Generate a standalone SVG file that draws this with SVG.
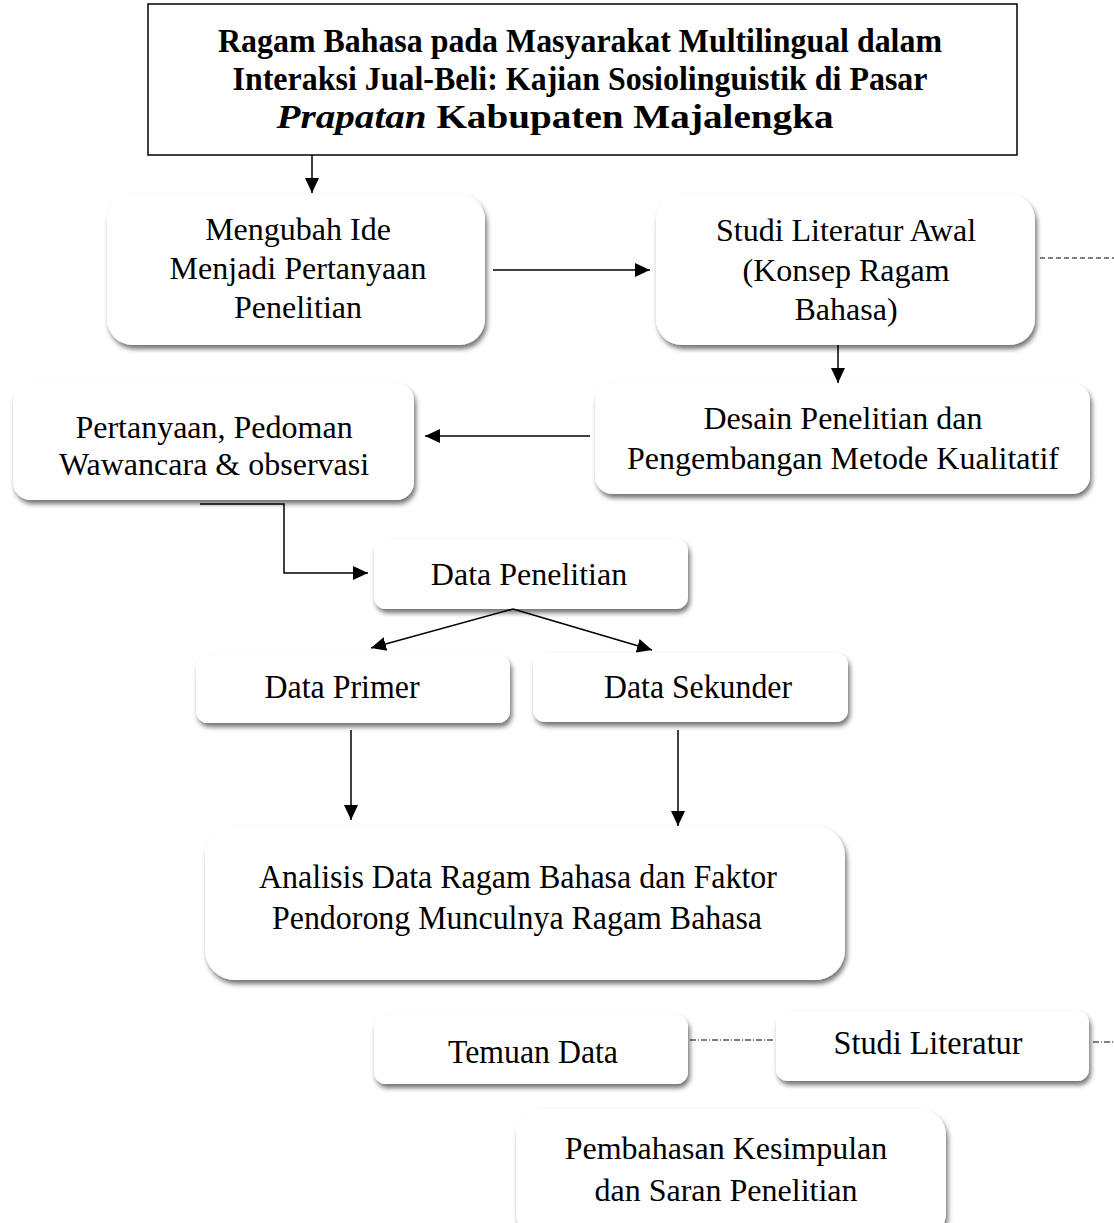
<svg xmlns="http://www.w3.org/2000/svg" width="1114" height="1223" viewBox="0 0 1114 1223">
<defs>
<marker id="ah" markerUnits="userSpaceOnUse" markerWidth="16" markerHeight="16" refX="15" refY="8" orient="auto">
<path d="M0,1 L15,8 L0,15 Z" fill="#000"/>
</marker>
<filter id="sh" x="-10%" y="-10%" width="125%" height="135%">
<feDropShadow dx="2" dy="4" stdDeviation="2.5" flood-color="#000" flood-opacity="0.55"/>
</filter>
</defs>
<style>
.box{fill:#fff;filter:url(#sh)}
.t{font-family:"Liberation Serif","Times New Roman",serif;font-size:32px;fill:#000;text-anchor:middle}
.n{font-size:34px}
.tt{font-family:"Liberation Serif","Times New Roman",serif;font-size:34px;font-weight:bold;fill:#000;text-anchor:middle}
.c{stroke:#000;stroke-width:1.5;fill:none}
.d{stroke:#000;stroke-width:1;fill:none;stroke-dasharray:5 3}
.dd{stroke:#000;stroke-width:1;fill:none;stroke-dasharray:6 2 1 2}
</style>
<rect width="1114" height="1223" fill="#fff"/>
<g id="title">
<rect x="148" y="4" width="869" height="151" fill="#fff" stroke="#000" stroke-width="1.5"/>
<text class="tt" x="580" y="52" textLength="724" lengthAdjust="spacingAndGlyphs">Ragam Bahasa pada Masyarakat Multilingual dalam</text>
<text class="tt" x="580" y="90" textLength="695" lengthAdjust="spacingAndGlyphs">Interaksi Jual-Beli: Kajian Sosiolinguistik di Pasar</text>
<text class="tt" x="555" y="128" textLength="557" lengthAdjust="spacingAndGlyphs"><tspan font-style="italic">Prapatan</tspan> Kabupaten Majalengka</text>
</g>
<g id="n-mengubah">
<rect class="box" x="107" y="194" width="378" height="151" rx="26"/>
<text class="t" x="298" y="240">Mengubah Ide</text>
<text class="t" x="298" y="279">Menjadi Pertanyaan</text>
<text class="t" x="298" y="318">Penelitian</text>
</g>
<g id="n-studi-awal">
<rect class="box" x="656" y="194" width="379" height="151" rx="26"/>
<text class="t" x="846" y="241">Studi Literatur Awal</text>
<text class="t" x="846" y="281">(Konsep Ragam</text>
<text class="t" x="846" y="320">Bahasa)</text>
</g>
<g id="n-desain">
<rect class="box" x="595" y="383" width="495" height="111" rx="18"/>
<text class="t" x="843" y="429">Desain Penelitian dan</text>
<text class="t" x="843" y="469">Pengembangan Metode Kualitatif</text>
</g>
<g id="n-pertanyaan">
<rect class="box" x="13" y="383" width="401" height="117" rx="18"/>
<text class="t" x="214" y="438">Pertanyaan, Pedoman</text>
<text class="t" x="214" y="475">Wawancara &amp; observasi</text>
</g>
<g id="n-data-penelitian">
<rect class="box" x="374" y="539" width="314" height="70" rx="12"/>
<text class="t" x="529" y="585">Data Penelitian</text>
</g>
<g id="n-data-primer">
<rect class="box" x="196" y="655" width="314" height="68" rx="12"/>
<text class="t n" x="342" y="698" textLength="155" lengthAdjust="spacingAndGlyphs">Data Primer</text>
</g>
<g id="n-data-sekunder">
<rect class="box" x="533" y="653" width="315" height="69" rx="12"/>
<text class="t n" x="698" y="698" textLength="188" lengthAdjust="spacingAndGlyphs">Data Sekunder</text>
</g>
<g id="n-analisis">
<rect class="box" x="205" y="826" width="640" height="154" rx="30"/>
<text class="t n" x="518" y="888" textLength="518" lengthAdjust="spacingAndGlyphs">Analisis Data Ragam Bahasa dan Faktor</text>
<text class="t n" x="517" y="929" textLength="490" lengthAdjust="spacingAndGlyphs">Pendorong Munculnya Ragam Bahasa</text>
</g>
<g id="n-temuan">
<rect class="box" x="374" y="1015" width="314" height="69" rx="12"/>
<text class="t n" x="533" y="1063" textLength="170" lengthAdjust="spacingAndGlyphs">Temuan Data</text>
</g>
<g id="n-studi">
<rect class="box" x="776" y="1011" width="313" height="70" rx="12"/>
<text class="t n" x="928" y="1054" textLength="189" lengthAdjust="spacingAndGlyphs">Studi Literatur</text>
</g>
<g id="n-pembahasan">
<rect class="box" x="516" y="1109" width="430" height="130" rx="26"/>
<text class="t" x="726" y="1159">Pembahasan Kesimpulan</text>
<text class="t" x="726" y="1201">dan Saran Penelitian</text>
</g>
<g id="connectors">
<line class="c" x1="312" y1="155" x2="312" y2="193" marker-end="url(#ah)"/>
<line class="c" x1="493" y1="270" x2="650" y2="270" marker-end="url(#ah)"/>
<line class="d" x1="1040" y1="258" x2="1114" y2="258"/>
<line class="c" x1="838" y1="345" x2="838" y2="383" marker-end="url(#ah)"/>
<line class="c" x1="590" y1="436" x2="425" y2="436" marker-end="url(#ah)"/>
<polyline class="c" points="200,504 284,504 284,573 368,573" marker-end="url(#ah)"/>
<line class="c" x1="513" y1="609" x2="371" y2="648" marker-end="url(#ah)"/>
<line class="c" x1="513" y1="609" x2="652" y2="650" marker-end="url(#ah)"/>
<line class="c" x1="351" y1="730" x2="351" y2="820" marker-end="url(#ah)"/>
<line class="c" x1="678" y1="730" x2="678" y2="826" marker-end="url(#ah)"/>
<line class="dd" x1="690" y1="1040" x2="775" y2="1040"/>
<line class="dd" x1="1093" y1="1042" x2="1114" y2="1042"/>
</g>
</svg>
